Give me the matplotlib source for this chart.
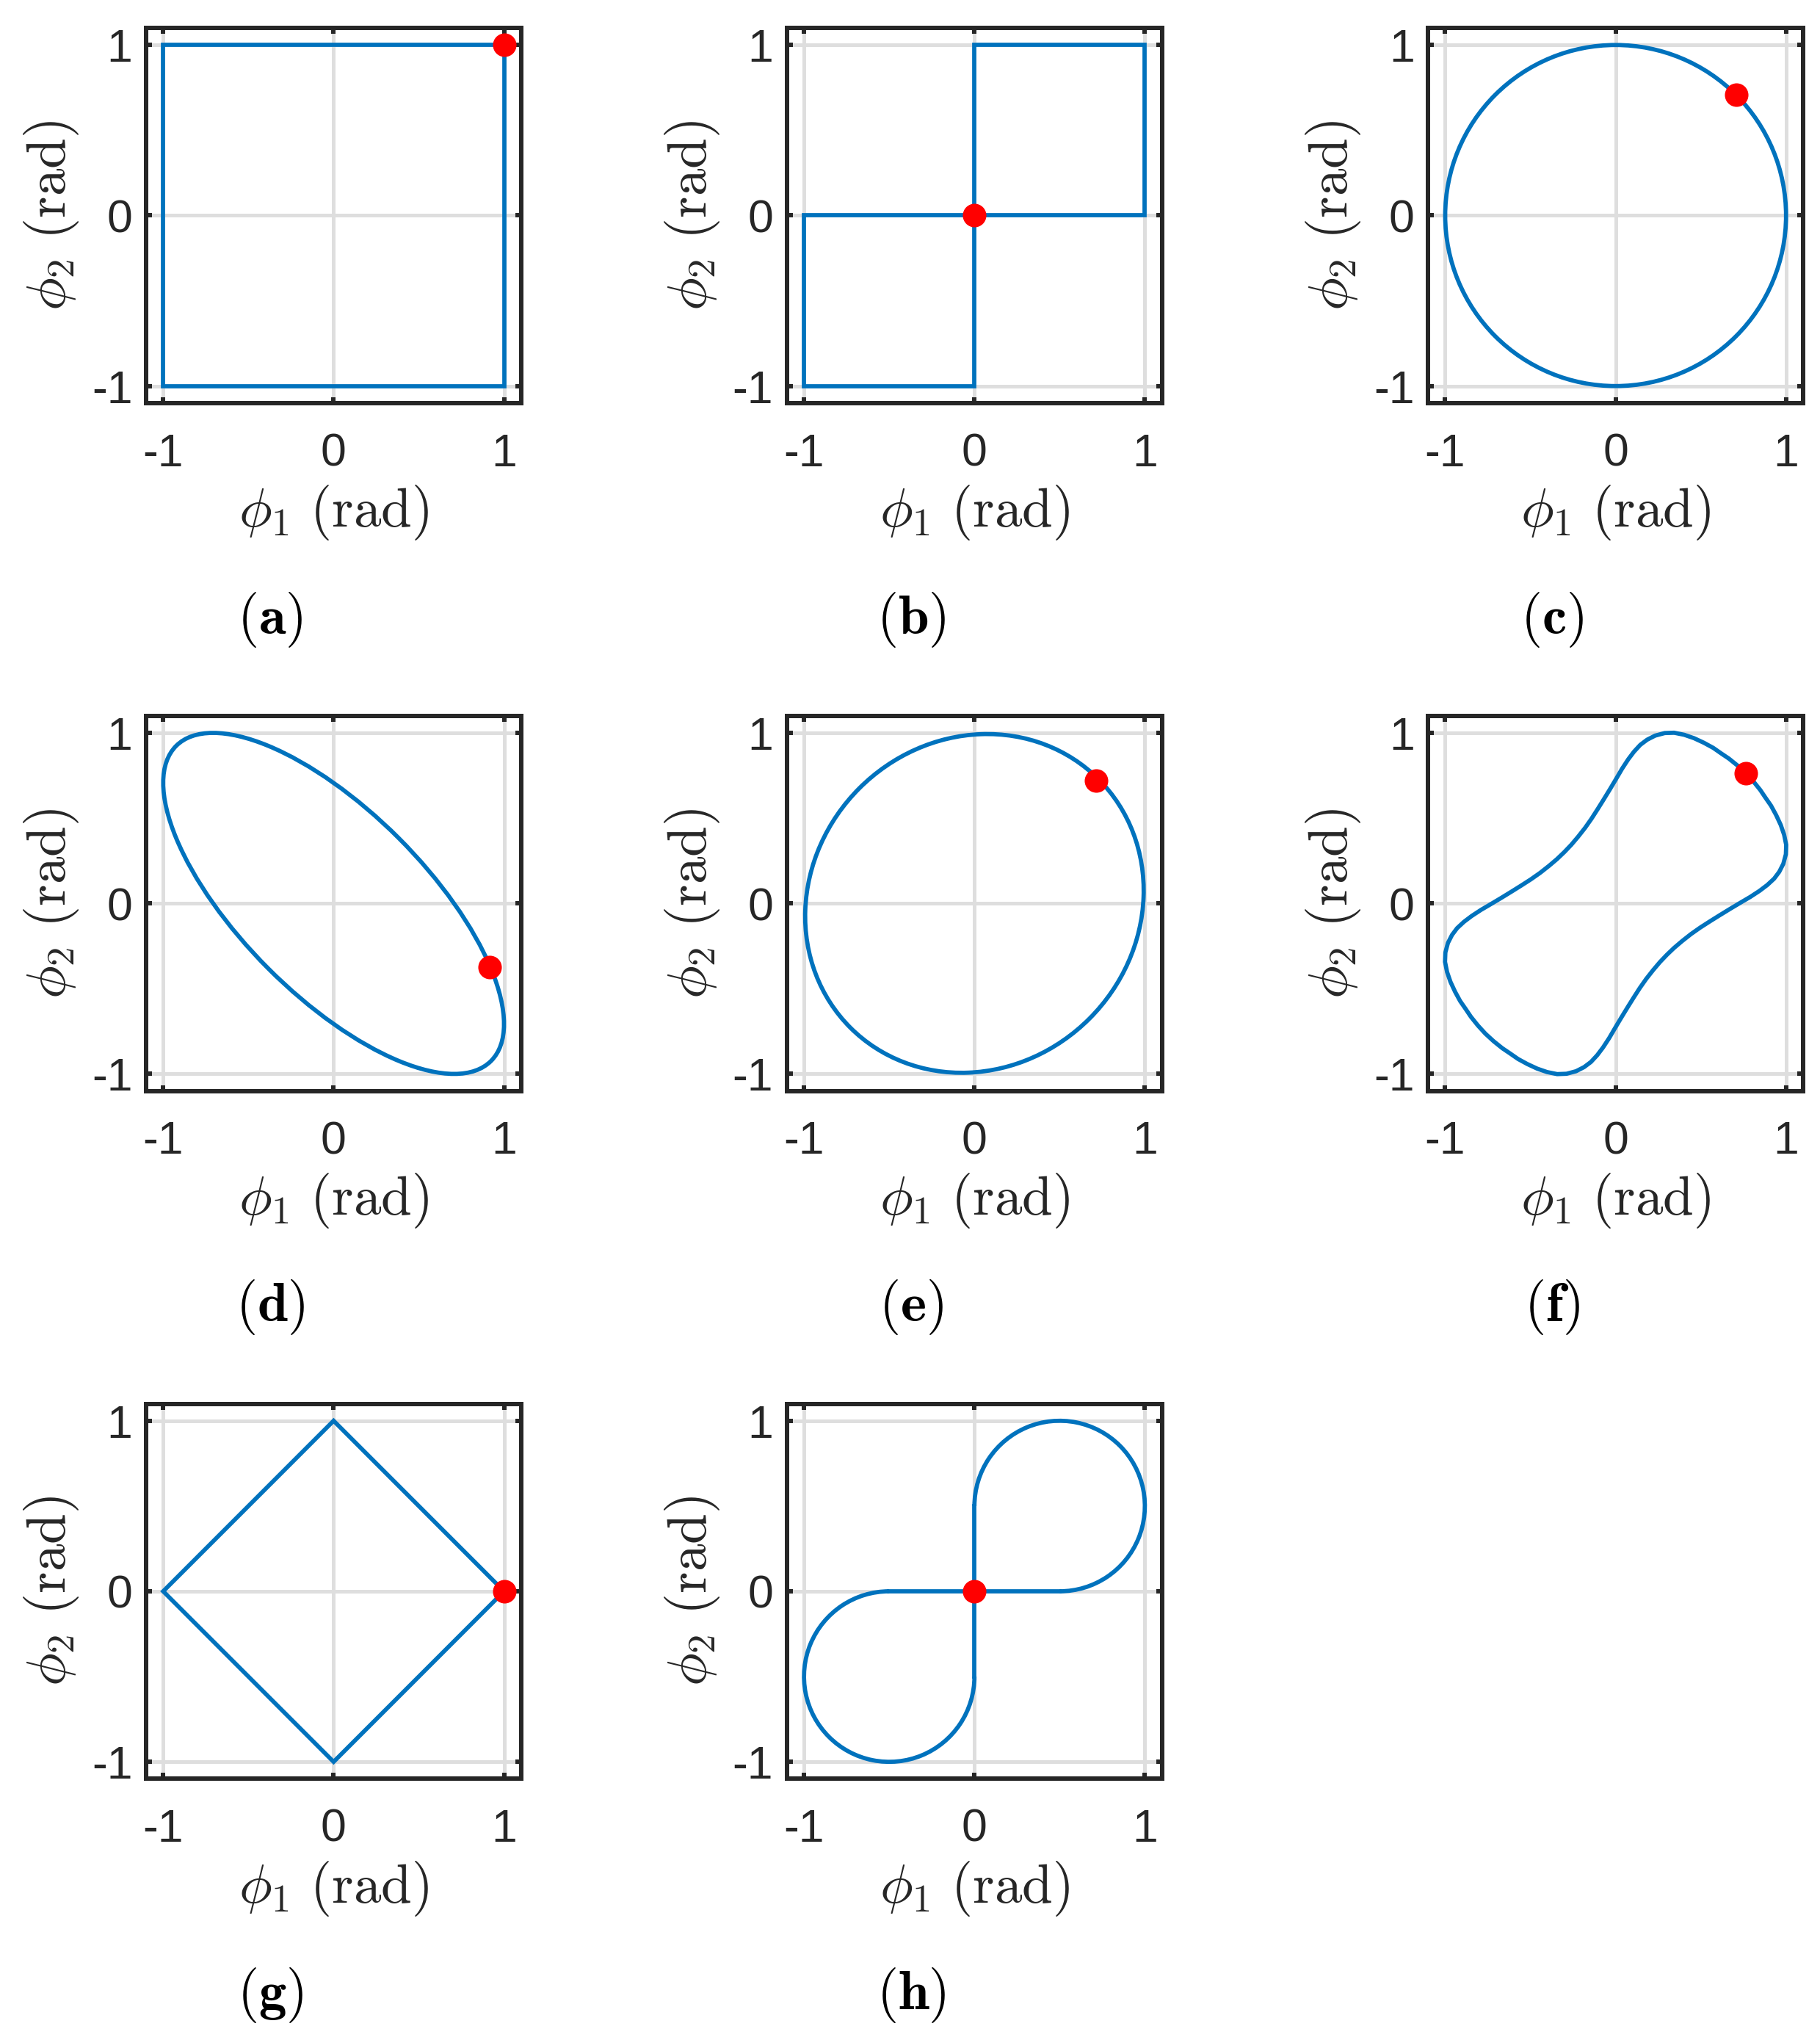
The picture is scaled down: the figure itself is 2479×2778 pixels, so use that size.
import matplotlib
matplotlib.use('Agg')
import matplotlib.pyplot as plt
from matplotlib.patches import Ellipse, Arc

plt.rcParams['font.family'] = ['Liberation Sans', 'DejaVu Sans']
plt.rcParams['mathtext.fontset'] = 'cm'
plt.rcParams['axes.unicode_minus'] = False

# ---------------- data ----------------
TICKS = [-1, 0, 1]
TICK_LABELS = ['-1', '0', '1']
PANEL_LABELS = ['(a)', '(b)', '(c)', '(d)', '(e)', '(f)', '(g)', '(h)']
XLABEL = r'$\phi_1\ (\mathrm{rad})$'
YLABEL = r'$\phi_2\ (\mathrm{rad})$'

# (a) square
A_PHI1 = [1, -1, -1, 1, 1]
A_PHI2 = [1, 1, -1, -1, 1]
A_DOT = (1.0, 1.0)

# (b) two squares
B_PHI1 = [0, 0, 1, 1, 0, 0, -1, -1, 0]
B_PHI2 = [0, 1, 1, 0, 0, -1, -1, 0, 0]
B_DOT = (0.0, 0.0)

# (c) circle
C_CENTER = (0.0, 0.0)
C_WIDTH = 2.0
C_HEIGHT = 2.0
C_ANGLE = 0.0
C_DOT = (0.707, 0.707)

# (d) tilted ellipse
D_CENTER = (0.0, 0.0)
D_WIDTH = 2.613
D_HEIGHT = 1.082
D_ANGLE = -45.0
D_DOT = (0.916, -0.375)

# (e) slightly oval loop, long axis along the 45 deg diagonal
E_CENTER = (0.0, 0.0)
E_WIDTH = 2.06
E_HEIGHT = 1.91
E_ANGLE = 45.0
E_DOT = (0.716, 0.722)

# (f) peanut-shaped loop
F_PHI1 = [0.764, 0.716, 0.665, 0.619, 0.573, 0.518, 0.460, 0.402, 0.343, 0.288,
          0.232, 0.185, 0.145, 0.108, 0.074, 0.038, 0.004, -0.033, -0.071, -0.106,
          -0.142, -0.180, -0.221, -0.260, -0.301,
          -0.344, -0.390, -0.442, -0.496, -0.552, -0.608, -0.670, -0.732, -0.790, -0.845,
          -0.890, -0.930, -0.960, -0.984, -0.999, -1.001, -0.989, -0.969, -0.942, -0.912,
          -0.880, -0.849, -0.808, -0.764,
          -0.716, -0.665, -0.619, -0.573, -0.518, -0.460, -0.402, -0.343, -0.288, -0.232,
          -0.185, -0.145, -0.108, -0.074, -0.038, -0.004, 0.033, 0.071, 0.106, 0.142,
          0.180, 0.221, 0.260, 0.301,
          0.344, 0.390, 0.442, 0.496, 0.552, 0.608, 0.670, 0.732, 0.790, 0.845,
          0.890, 0.930, 0.960, 0.984, 0.999, 1.001, 0.989, 0.969, 0.942, 0.912,
          0.880, 0.849, 0.808, 0.764]
F_PHI2 = [0.764, 0.808, 0.849, 0.880, 0.912, 0.942, 0.969, 0.989, 1.001, 0.999,
          0.984, 0.960, 0.930, 0.890, 0.845, 0.790, 0.732, 0.670, 0.608, 0.552,
          0.496, 0.442, 0.390, 0.344, 0.301,
          0.260, 0.221, 0.180, 0.142, 0.106, 0.071, 0.033, -0.004, -0.038, -0.074,
          -0.108, -0.145, -0.185, -0.232, -0.288, -0.343, -0.402, -0.460, -0.518, -0.573,
          -0.619, -0.665, -0.716, -0.764,
          -0.808, -0.849, -0.880, -0.912, -0.942, -0.969, -0.989, -1.001, -0.999, -0.984,
          -0.960, -0.930, -0.890, -0.845, -0.790, -0.732, -0.670, -0.608, -0.552, -0.496,
          -0.442, -0.390, -0.344, -0.301,
          -0.260, -0.221, -0.180, -0.142, -0.106, -0.071, -0.033, 0.004, 0.038, 0.074,
          0.108, 0.145, 0.185, 0.232, 0.288, 0.343, 0.402, 0.460, 0.518, 0.573,
          0.619, 0.665, 0.716, 0.764]
F_DOT = (0.765, 0.763)

# (g) diamond
G_PHI1 = [1, 0, -1, 0, 1]
G_PHI2 = [0, 1, 0, -1, 0]
G_DOT = (1.0, 0.0)

# (h) figure-eight of two 3/4 circles plus straight segments
H_LOBE_PHI1 = [0.5, -0.5]
H_LOBE_PHI2 = [0.5, -0.5]
H_LOBE_RADIUS = 0.5
H_LOBE_THETA1 = [-90, 90]
H_LOBE_THETA2 = [180, 360]
H_HSEG_PHI1 = [-0.5, 0.5]
H_HSEG_PHI2 = [0.0, 0.0]
H_VSEG_PHI1 = [0.0, 0.0]
H_VSEG_PHI2 = [-0.5, 0.5]
H_DOT = (0.0, 0.0)

# ---------------- style ----------------
BLUE = '#0072BD'
RED = '#FF0000'
DARK = '#262626'
GRID = '#DEDEDE'
LW = 1.38
SPINE_LW = 1.44

W, H, DPI = 2479, 2778, 300
fig = plt.figure(figsize=(W / DPI, H / DPI), dpi=DPI)

lefts = [0.0803, 0.4324, 0.7847]
bottoms = [0.8024, 0.4652, 0.1280]
aw, ah = 0.2060, 0.1839

axes = []
for i in range(8):
    r, c = divmod(i, 3)
    ax = fig.add_axes([lefts[c], bottoms[r], aw, ah])
    ax.set_xlim(-1.1, 1.1)
    ax.set_ylim(-1.1, 1.1)
    ax.set_xticks(TICKS)
    ax.set_yticks(TICKS)
    ax.set_xticklabels(TICK_LABELS)
    ax.set_yticklabels(TICK_LABELS)
    ax.tick_params(direction='in', length=2.0, width=SPINE_LW, top=True, right=True,
                   labelsize=15, colors=DARK)
    ax.tick_params(axis='x', pad=9.5)
    ax.tick_params(axis='y', pad=4.5)
    for s in ax.spines.values():
        s.set_linewidth(SPINE_LW)
        s.set_color(DARK)
    ax.grid(True, color=GRID, linewidth=1.2)
    ax.set_axisbelow(True)
    ax.set_xlabel(XLABEL, fontsize=18, color=DARK, va='center')
    ax.set_ylabel(YLABEL, fontsize=18, color=DARK, va='center')
    ax.xaxis.set_label_coords(0.5, -0.292)
    ax.yaxis.set_label_coords(-0.253, 0.5)
    ax.text(0.331, -0.577, r'$\mathbf{' + PANEL_LABELS[i] + '}$', transform=ax.transAxes,
            ha='center', va='center', fontsize=18, color='black')
    axes.append(ax)

line_kw = dict(color=BLUE, linewidth=LW, solid_joinstyle='miter', zorder=3)
dot_kw = dict(marker='o', color=RED, markersize=7.7, markeredgewidth=0, linestyle='none', zorder=5)

# (a)
axes[0].plot(A_PHI1, A_PHI2, **line_kw)
axes[0].plot([A_DOT[0]], [A_DOT[1]], **dot_kw)
# (b)
axes[1].plot(B_PHI1, B_PHI2, **line_kw)
axes[1].plot([B_DOT[0]], [B_DOT[1]], **dot_kw)
# (c)
axes[2].add_patch(Ellipse(C_CENTER, C_WIDTH, C_HEIGHT, angle=C_ANGLE, fill=False,
                          edgecolor=BLUE, linewidth=LW, zorder=3))
axes[2].plot([C_DOT[0]], [C_DOT[1]], **dot_kw)
# (d)
axes[3].add_patch(Ellipse(D_CENTER, D_WIDTH, D_HEIGHT, angle=D_ANGLE, fill=False,
                          edgecolor=BLUE, linewidth=LW, zorder=3))
axes[3].plot([D_DOT[0]], [D_DOT[1]], **dot_kw)
# (e)
axes[4].add_patch(Ellipse(E_CENTER, E_WIDTH, E_HEIGHT, angle=E_ANGLE, fill=False,
                          edgecolor=BLUE, linewidth=LW, zorder=3))
axes[4].plot([E_DOT[0]], [E_DOT[1]], **dot_kw)
# (f)
axes[5].plot(F_PHI1, F_PHI2, color=BLUE, linewidth=LW, solid_joinstyle='round', zorder=3)
axes[5].plot([F_DOT[0]], [F_DOT[1]], **dot_kw)
# (g)
axes[6].plot(G_PHI1, G_PHI2, **line_kw)
axes[6].plot([G_DOT[0]], [G_DOT[1]], **dot_kw)
# (h)
for cx, cy, t1, t2 in zip(H_LOBE_PHI1, H_LOBE_PHI2, H_LOBE_THETA1, H_LOBE_THETA2):
    axes[7].add_patch(Arc((cx, cy), 2 * H_LOBE_RADIUS, 2 * H_LOBE_RADIUS, theta1=t1, theta2=t2,
                          edgecolor=BLUE, linewidth=LW, zorder=3))
axes[7].plot(H_HSEG_PHI1, H_HSEG_PHI2, **line_kw)
axes[7].plot(H_VSEG_PHI1, H_VSEG_PHI2, **line_kw)
axes[7].plot([H_DOT[0]], [H_DOT[1]], **dot_kw)

fig.savefig('out.png', dpi=DPI)
